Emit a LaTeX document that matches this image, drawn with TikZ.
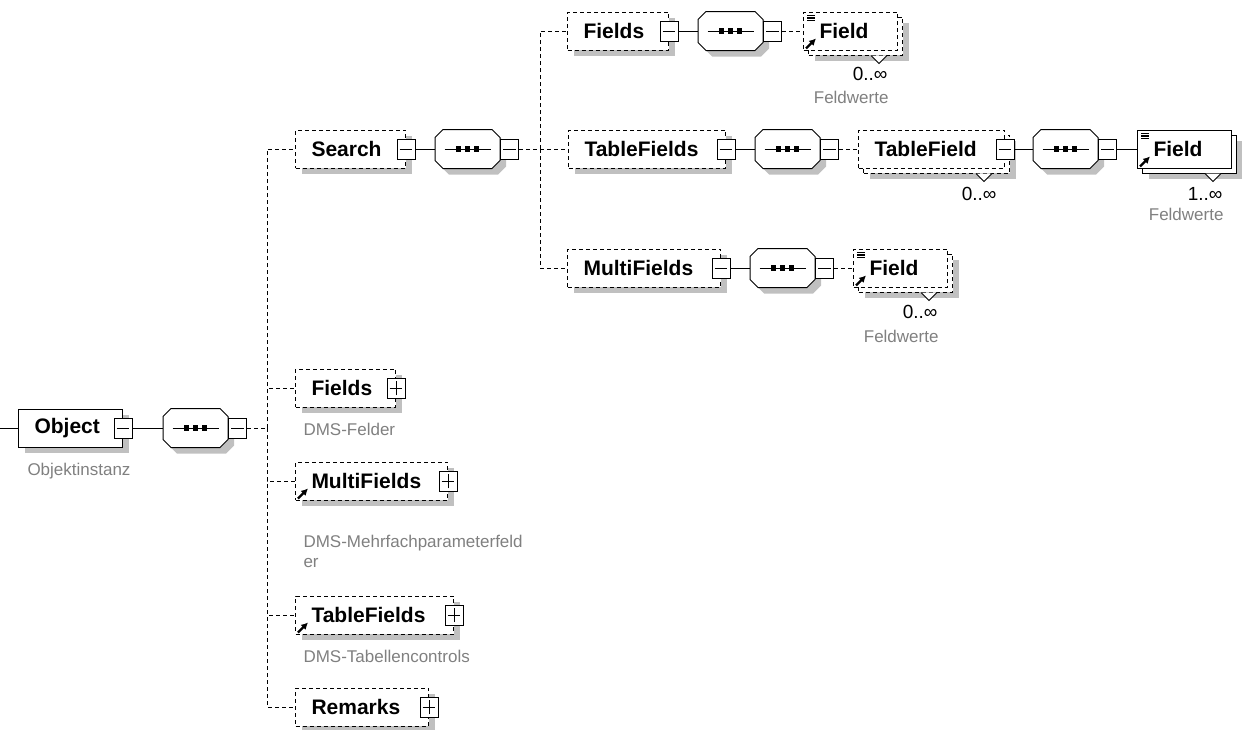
\documentclass[tikz,border=0pt]{standalone}
\usepackage{fontspec}
\setmainfont{Liberation Sans}
\usepackage{xcolor}
\definecolor{Shade}{RGB}{192,192,192}
\definecolor{Note}{RGB}{128,128,128}
\usepackage{tikz}
\usetikzlibrary{shadows}
\usetikzlibrary{arrows.meta}
\tikzstyle{Shadowed}=[drop shadow={shadow xshift=3pt,shadow yshift=-3pt,
    fill=Shade,opacity=1}]
\tikzstyle{Box}=[draw=black,fill=white,anchor=west,align=left,
minimum height=19pt,inner xsep=8pt,inner ysep=0pt,
font=\fontsize{10.5}{12}\selectfont\bfseries]
\tikzstyle{Elem}=[Box,Shadowed]
\tikzstyle{Back}=[draw=black,fill=white,anchor=west,minimum height=19pt,
inner sep=0pt,Shadowed]
\tikzstyle{Opt}=[dash pattern=on 2pt off 1.5pt]
\tikzstyle{Seq}=[rectangle,anchor=west,minimum width=32pt,minimum height=19pt,
inner sep=0pt]
\tikzstyle{Oct}=[insert path={([xshift=4pt]#1.north west)
    --([xshift=-4pt]#1.north east)--([yshift=-4pt]#1.north east)
    --([yshift=4pt]#1.south east)--([xshift=-4pt]#1.south east)
    --([xshift=4pt]#1.south west)--([yshift=4pt]#1.south west)
    --([yshift=-4pt]#1.north west)--cycle}]
\tikzstyle{Exp}=[draw=black,fill=white,solid,minimum width=9pt,
minimum height=10pt,inner sep=0pt]
\tikzstyle{Minus}=[Exp,path picture={
    \draw[black]([xshift=-3.2pt]path picture bounding box.center)
    --([xshift=3.2pt]path picture bounding box.center);}]
\tikzstyle{Plus}=[Exp,path picture={
    \draw[black]([xshift=-3.2pt]path picture bounding box.center)
    --([xshift=3.2pt]path picture bounding box.center);
    \draw[black]([yshift=-3.7pt]path picture bounding box.center)
    --([yshift=3.7pt]path picture bounding box.center);}]
\tikzstyle{Edge}=[draw=black]
\tikzstyle{OptEdge}=[Edge,dash pattern=on 2pt off 1.5pt]
\tikzstyle{Descr}=[text=Note,inner sep=0pt,anchor=base west,
font=\fontsize{8.5}{10}\selectfont]
\tikzstyle{Occ}=[inner sep=0pt,anchor=base east,font=\fontsize{9.5}{10}\selectfont]
\tikzstyle{Ref}=[line width=1.1pt,-{Latex[length=3.4pt,width=3.6pt]}]
\tikzstyle{Notch}=[draw=black,solid,fill=white]

\begin{document}
\begin{tikzpicture}[x=0.5pt,y=-0.5pt,line width=0.5pt]
    \useasboundingbox (0,0) rectangle (1242,729);
    % root element and its sequence
    \coordinate (in) at (0,428);
    \node[Elem,text width=36pt](obj)at(18,428){Object};
    \node[Descr](d0)at(27,475){Objektinstanz};
    \node[Seq](s0)at(163,428){};
    \coordinate (b1) at (267,428);
    % children of the root
    \node[Elem,Opt,text width=39pt](search)at(295,149){Search};
    \node[Elem,Opt,text width=34pt](fields)at(295,388){Fields};
    \node[Descr](d1)at(303,435){DMS-Felder};
    \node[Elem,Opt,text width=60pt](multi)at(295,481){MultiFields};
    \node[Descr,anchor=north west,align=left](d2)at(303,535)
        {DMS-Mehrfachparameterfeld\\er};
    \node[Elem,Opt,text width=63pt](table)at(295,615){TableFields};
    \node[Descr](d3)at(303,662){DMS-Tabellencontrols};
    \node[Elem,Opt,text width=50.5pt](remarks)at(295,707){Remarks};
    % Search
    \node[Seq](s1)at(435,149){};
    \coordinate (b2) at (540,149);
    % Search / Fields
    \node[Elem,Opt,text width=34.5pt](fld)at(567,31){Fields};
    \node[Seq](s2)at(698,31){};
    \node[Back,Opt,minimum width=47pt](f2b)at(808,36){};
    \node[Box,Opt,text width=31pt](f2)at(803,31){Field};
    \node[Occ](o2)at(888,80){0..∞};
    \node[Descr,anchor=base east](w2)at(889,103){Feldwerte};
    % Search / TableFields
    \node[Elem,Opt,text width=62.5pt](tfs)at(568,149){TableFields};
    \node[Seq](s3)at(755,149){};
    \node[Back,Opt,minimum width=73pt](tfb)at(863,154){};
    \node[Box,Opt,text width=57pt](tf)at(858,149){TableField};
    \node[Occ](o3)at(997,200){0..∞};
    \node[Seq](s4)at(1033,149){};
    \node[Back,minimum width=47pt](f4b)at(1142,154){};
    \node[Box,text width=31pt](f4)at(1137,149){Field};
    \node[Occ](o4)at(1223,200){1..∞};
    \node[Descr,anchor=base east](w4)at(1224,220){Feldwerte};
    % Search / MultiFields
    \node[Elem,Opt,text width=60.5pt](mfs)at(567,268){MultiFields};
    \node[Seq](s5)at(750,268){};
    \node[Back,Opt,minimum width=47pt](f5b)at(858,273){};
    \node[Box,Opt,text width=31pt](f5)at(853,268){Field};
    \node[Occ](o5)at(938,318){0..∞};
    \node[Descr,anchor=base east](w5)at(939,342){Feldwerte};
    % sequence compositors
    \foreach \s in {s0,s1,s2,s3,s4,s5}{
        \fill[Shade,transform canvas={shift={(3pt,-3pt)}},Oct=\s];
        \draw[fill=white,Oct=\s];
        \draw([xshift=-11.5pt]\s.center)--([xshift=11.5pt]\s.center);
        \foreach \d in {-4.5,0,4.5}
            \fill[black]([xshift=\d pt]\s.center)+(-1.3pt,-1.3pt)
                rectangle +(1.3pt,1.3pt);
    }
    % expand buttons
    \node[Minus](objx)at(obj.east){};
    \node[Minus](searchx)at(search.east){};
    \node[Plus](fieldsx)at(fields.east){};
    \node[Plus](multix)at(multi.east){};
    \node[Plus](tablex)at(table.east){};
    \node[Plus](remarksx)at(remarks.east){};
    \node[Minus](fldx)at(fld.east){};
    \node[Minus](tfsx)at(tfs.east){};
    \node[Minus](tfx)at(tf.east){};
    \node[Minus](mfsx)at(mfs.east){};
    \foreach \s in {s0,s1,s2,s3,s4,s5}
        \node[Minus,anchor=west](\s x)at(\s.east){};
    % icons and occurrence marks
    \foreach \f in {f2,f4,f5}{
        \foreach \k in {4,6.5,9}
            \draw[line width=0.55pt]([shift={(4,\k)}]\f.north west)--++(8,0);
        \draw[Notch]([shift={(-32,0)}]\f b.south east)--++(8,8)--++(8,-8);
    }
    \draw[Notch]([shift={(-34,0)}]tfb.south east)--++(8,8)--++(8,-8);
    \foreach \f in {f2,f4,f5,multi,table}
        \draw[Ref](\f.south west)++(3,-2)--++(10,-10);
    % connectors
    \draw[Edge](in)--(obj.west);
    \draw[Edge](objx.east)--(s0.west);
    \draw[OptEdge](s0x.east)--(b1);
    \foreach \n in {search,fields,multi,table,remarks}
        \draw[OptEdge](b1)|-(\n.west);
    \draw[Edge](searchx.east)--(s1.west);
    \draw[OptEdge](s1x.east)--(b2);
    \foreach \n in {fld,tfs,mfs}
        \draw[OptEdge](b2)|-(\n.west);
    \draw[Edge](fldx.east)--(s2.west);
    \draw[OptEdge](s2x.east)--(f2.west);
    \draw[Edge](tfsx.east)--(s3.west);
    \draw[OptEdge](s3x.east)--(tf.west);
    \draw[Edge](tfx.east)--(s4.west);
    \draw[Edge](s4x.east)--(f4.west);
    \draw[Edge](mfsx.east)--(s5.west);
    \draw[OptEdge](s5x.east)--(f5.west);
\end{tikzpicture}
\end{document}
